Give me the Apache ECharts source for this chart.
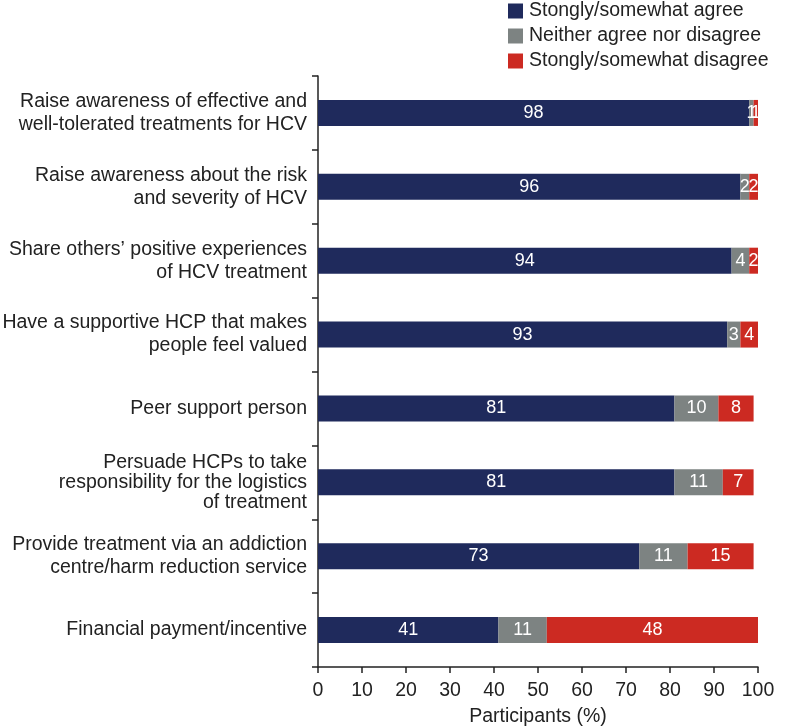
<!DOCTYPE html>
<html>
<head>
<meta charset="utf-8">
<script src="https://cdn.jsdelivr.net/npm/echarts@6/dist/echarts.min.js"></script>
<style>html,body{margin:0;padding:0;background:#fff}#c{width:787px;height:727px}</style>
</head>
<body>
<div id="c"></div>
<script>
const categories = [
  "Raise awareness of effective and\nwell-tolerated treatments for HCV",
  "Raise awareness about the risk\nand severity of HCV",
  "Share others\u2019 positive experiences\nof HCV treatment",
  "Have a supportive HCP that makes\npeople feel valued",
  "Peer support person",
  "Persuade HCPs to take\nresponsibility for the logistics\nof treatment",
  "Provide treatment via an addiction\ncentre/harm reduction service",
  "Financial payment/incentive"
];
const agree = [98, 96, 94, 93, 81, 81, 73, 41];
const neither = [1, 2, 4, 3, 10, 11, 11, 11];
const disagree = [1, 2, 2, 4, 8, 7, 15, 48];
const seriesNames = ["Stongly/somewhat agree", "Neither agree nor disagree", "Stongly/somewhat disagree"];
const xTicks = [0, 10, 20, 30, 40, 50, 60, 70, 80, 90, 100];

const FONT = "'Liberation Sans', Arial, Helvetica, sans-serif";
const FS = 19.5;
const colors = ["#1f2a5c", "#7d8382", "#cc2a22"];
const chart = echarts.init(document.getElementById('c'), null, {renderer: 'canvas'});
const mk = (name, data, color) => ({
  name, type: 'bar', stack: 'total', data, barWidth: 26,
  itemStyle: {color},
  label: {show: true, position: 'inside', color: '#fff', fontSize: 18, fontFamily: FONT},
  emphasis: {disabled: true}
});
chart.setOption({
  animation: false,
  textStyle: {fontFamily: FONT},
  legend: {
    orient: 'vertical', left: 503, top: -4, itemWidth: 15, itemHeight: 15, itemGap: 5,
    icon: 'rect',
    textStyle: {fontSize: FS, color: '#222', fontFamily: FONT, padding: [0, 0, 0, 1]},
    data: seriesNames
  },
  grid: {left: 318, right: 29, top: 76, bottom: 60, containLabel: false, outerBoundsMode: 'none'},
  xAxis: {
    type: 'value', min: 0, max: 100, interval: 10,
    name: 'Participants (%)', nameLocation: 'middle', nameGap: 40,
    nameTextStyle: {fontSize: FS, color: '#222', fontFamily: FONT},
    axisLine: {show: true, lineStyle: {color: '#222', width: 1.5}},
    axisTick: {show: true, length: 6, lineStyle: {color: '#222', width: 1.5}},
    axisLabel: {fontSize: FS, color: '#222', margin: 14, fontFamily: FONT,
      formatter: v => xTicks.includes(v) ? String(v) : ''},
    splitLine: {show: false}
  },
  yAxis: {
    type: 'category', data: categories, inverse: true,
    axisLine: {show: true, lineStyle: {color: '#222', width: 1.5}},
    axisTick: {show: true, length: 6, lineStyle: {color: '#222', width: 1.5}},
    axisLabel: {fontSize: FS, color: '#222', lineHeight: 23, margin: 11, align: 'right', fontFamily: FONT,
      formatter: v => v.split('\n').length > 2 ? '{t|' + v.split('\n').join('}\n{t|') + '}' : v,
      rich: {t: {fontSize: FS, lineHeight: 20, color: '#222', fontFamily: FONT, align: 'right'}}}
  },
  series: [
    mk(seriesNames[0], agree, colors[0]),
    mk(seriesNames[1], neither, colors[1]),
    mk(seriesNames[2], disagree, colors[2])
  ]
});
</script>
</body>
</html>
